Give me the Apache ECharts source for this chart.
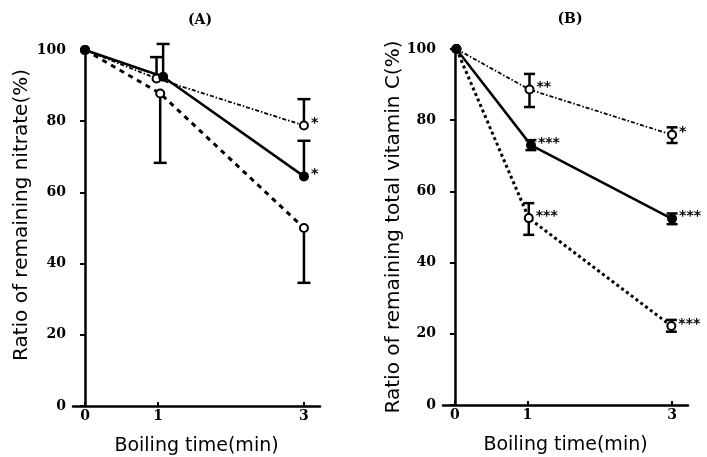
<!DOCTYPE html>
<html>
<head>
<meta charset="utf-8">
<script src="https://cdn.jsdelivr.net/npm/echarts@6/dist/echarts.min.js"></script>
<style>
  html, body { margin: 0; padding: 0; background: #fff; }
  #chart { width: 707px; height: 457px; }
</style>
</head>
<body>
<div id="chart"></div>
<script>
// tick labels on the time axis
const xTicks = [0, 1, 3];

// (A) remaining nitrate, [time, %]
const aSolid = [[0, 100], [1.07, 92.5], [3, 64.5]];
const aDashDot = [[0, 100], [0.98, 92], [3, 78.8]];
const aDashed = [[0, 100], [1.03, 87.8], [3, 50]];
// error bars: [time, mean, low, high]
const aErrors = [
  [0.98, 92, 92, 98],
  [1.07, 92.5, 92.5, 101.7],
  [1.03, 87.8, 68.3, 87.8],
  [3, 78.8, 78.8, 86.2],
  [3, 64.5, 64.5, 74.5],
  [3, 50, 34.6, 50],
];
const aSolidStars = ['', '', '*'];
const aDashDotStars = ['', '', '*'];
const aDashedStars = ['', '', ''];

// (B) remaining total vitamin C, [time, %]
const bSolid = [[0.02, 100], [1.05, 73], [3, 52.3]];
const bDashDot = [[0.02, 100], [1.03, 88.6], [3, 75.9]];
const bDotted = [[0.02, 100], [1.02, 52.5], [2.99, 22.2]];
const bErrors = [
  [1.03, 88.6, 83.7, 93],
  [3, 75.9, 73.6, 78],
  [1.05, 73, 71.6, 74.4],
  [3, 52.3, 50.8, 53.8],
  [1.02, 52.5, 47.8, 56.7],
  [2.99, 22.2, 20.6, 23.9],
];
const bSolidStars = ['', '***', '***'];
const bDashDotStars = ['', '**', '*'];
const bDottedStars = ['', '***', '***'];

const chart = echarts.init(document.getElementById('chart'), null, { renderer: 'canvas' });

const tickFont = {
  fontFamily: 'DejaVu Serif',
  fontWeight: 'bold',
  fontSize: 14,
  color: '#000',
};

function xAxisFor(gridIndex) {
  return {
    gridIndex,
    type: 'value',
    min: -0.165,
    max: 3.22,
    name: 'Boiling time(min)',
    nameLocation: 'middle',
    nameGap: 31,
    nameTextStyle: { fontFamily: 'DejaVu Sans', fontSize: 19, color: '#000' },
    axisLine: { lineStyle: { color: '#000', width: 2.5 } },
    axisTick: { show: true, inside: true, length: 4, customValues: xTicks, lineStyle: { width: 2 } },
    axisLabel: { customValues: xTicks, margin: 3, ...tickFont },
    splitLine: { show: false },
  };
}

function yAxisFor(gridIndex) {
  return {
    gridIndex,
    type: 'value',
    min: 0,
    max: 100,
    interval: 20,
    axisLine: { show: true, lineStyle: { color: '#000', width: 2.5 } },
    axisTick: { show: true, length: 5, lineStyle: { width: 2 } },
    axisLabel: { margin: 7, ...tickFont },
    splitLine: { show: false },
  };
}

function lineSeries(idx, data, stars, filled, lineType, width) {
  return {
    type: 'line',
    xAxisIndex: idx,
    yAxisIndex: idx,
    data,
    symbol: filled ? 'circle' : 'emptyCircle',
    symbolSize: filled ? 10 : 8,
    itemStyle: { color: '#000', borderColor: '#000', borderWidth: filled ? 0 : 2 },
    lineStyle: { color: '#000', width, type: lineType },
    label: {
      show: true,
      position: 'right',
      distance: 2,
      offset: [0, -2],
      formatter: (p) => stars[p.dataIndex],
      fontFamily: 'DejaVu Sans',
      fontWeight: 'bold',
      fontSize: 14,
      color: '#000',
    },
    z: 3,
    animation: false,
  };
}

function errorSeries(idx, data, cap) {
  return {
    type: 'custom',
    xAxisIndex: idx,
    yAxisIndex: idx,
    data,
    renderItem: (params, api) => {
      const x = api.value(0);
      const mean = api.value(1);
      const lo = api.coord([x, api.value(2)]);
      const hi = api.coord([x, api.value(3)]);
      const style = { stroke: '#000', lineWidth: 2.5 };
      const children = [
        { type: 'line', shape: { x1: lo[0], y1: lo[1], x2: hi[0], y2: hi[1] }, style },
      ];
      if (api.value(2) !== mean) {
        children.push({ type: 'line', shape: { x1: lo[0] - cap / 2, y1: lo[1], x2: lo[0] + cap / 2, y2: lo[1] }, style });
      }
      if (api.value(3) !== mean) {
        children.push({ type: 'line', shape: { x1: hi[0] - cap / 2, y1: hi[1], x2: hi[0] + cap / 2, y2: hi[1] }, style });
      }
      return { type: 'group', children };
    },
    z: 2,
    animation: false,
  };
}

const option = {
  backgroundColor: '#fff',
  animation: false,
  title: [
    { text: '(A)', left: 195, top: 8, textAlign: 'center', textStyle: { ...tickFont, fontSize: 14 } },
    { text: '(B)', left: 565, top: 7, textAlign: 'center', textStyle: { ...tickFont, fontSize: 14 } },
  ],
  grid: [
    { left: 73, top: 50, width: 247, height: 356, outerBoundsMode: 'none' },
    { left: 443, top: 49, width: 245, height: 356, outerBoundsMode: 'none' },
  ],
  xAxis: [xAxisFor(0), xAxisFor(1)],
  yAxis: [yAxisFor(0), yAxisFor(1)],
  graphic: [
    {
      type: 'text',
      x: 22,
      y: 215,
      rotation: Math.PI / 2,
      style: {
        text: 'Ratio of remaining nitrate(%)',
        fontFamily: 'DejaVu Sans',
        fontSize: 20,
        fill: '#000',
        align: 'center',
        verticalAlign: 'middle',
      },
    },
    {
      type: 'text',
      x: 394,
      y: 227,
      rotation: Math.PI / 2,
      style: {
        text: 'Ratio of remaining total vitamin C(%)',
        fontFamily: 'DejaVu Sans',
        fontSize: 20,
        fill: '#000',
        align: 'center',
        verticalAlign: 'middle',
      },
    },
  ],
  series: [
    errorSeries(0, aErrors, 13),
    lineSeries(0, aDashDot, aDashDotStars, false, [4, 2, 1.5, 2], 1.8),
    lineSeries(0, aDashed, aDashedStars, false, [5, 5], 3),
    lineSeries(0, aSolid, aSolidStars, true, 'solid', 2.5),
    errorSeries(1, bErrors, 11),
    lineSeries(1, bDashDot, bDashDotStars, false, [4, 2, 1.5, 2], 1.8),
    lineSeries(1, bDotted, bDottedStars, false, [3, 3], 3),
    lineSeries(1, bSolid, bSolidStars, true, 'solid', 2.5),
  ],
};

chart.setOption(option);
</script>
</body>
</html>
